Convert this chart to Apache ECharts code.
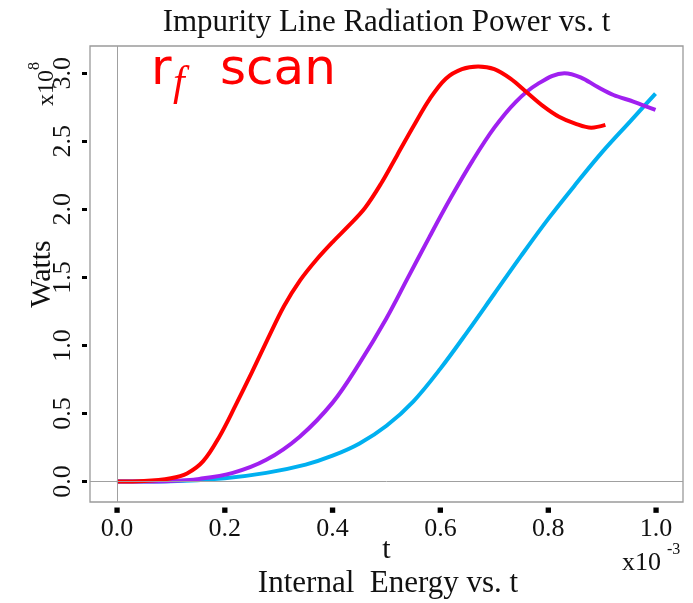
<!DOCTYPE html>
<html>
<head>
<meta charset="utf-8">
<script src="https://cdn.jsdelivr.net/npm/echarts@6/dist/echarts.min.js"></script>
<style>
html,body{margin:0;padding:0;background:#fff;}
#chart{width:693px;height:603px;}
</style>
</head>
<body>
<div id="chart"></div>
<script>
// t in units of 1e-3, power in units of 1e8 W
const redT =    [0, 0.05, 0.1, 0.13, 0.16, 0.19, 0.22, 0.25, 0.28, 0.31, 0.34, 0.37, 0.4, 0.43, 0.46, 0.49, 0.52, 0.55, 0.58, 0.61, 0.64, 0.67, 0.70, 0.73, 0.76, 0.79, 0.82, 0.85, 0.88, 0.906];
const redW =    [0, 0.004, 0.025, 0.06, 0.15, 0.33, 0.56, 0.80, 1.05, 1.29, 1.48, 1.63, 1.76, 1.88, 2.01, 2.19, 2.40, 2.61, 2.81, 2.96, 3.03, 3.05, 3.03, 2.96, 2.86, 2.76, 2.68, 2.63, 2.60, 2.62];
const purpleT = [0, 0.1, 0.153, 0.215, 0.277, 0.339, 0.4, 0.45, 0.5, 0.54, 0.58, 0.62, 0.66, 0.7, 0.74, 0.78, 0.83, 0.86, 0.891, 0.921, 0.959, 0.999];
const purpleW = [0, 0.005, 0.02, 0.064, 0.16, 0.33, 0.58, 0.87, 1.2, 1.5, 1.8, 2.09, 2.36, 2.6, 2.79, 2.92, 3.0, 2.97, 2.90, 2.84, 2.79, 2.73];
const cyanT =   [0, 0.1, 0.2, 0.277, 0.35, 0.4, 0.45, 0.5, 0.55, 0.6, 0.65, 0.7, 0.75, 0.8, 0.85, 0.9, 0.953, 0.999];
const cyanW =   [0, 0.003, 0.025, 0.064, 0.125, 0.19, 0.28, 0.41, 0.59, 0.83, 1.1, 1.38, 1.66, 1.93, 2.18, 2.42, 2.65, 2.85];
const xTicks = [0, 0.2, 0.4, 0.6, 0.8, 1.0];
const yTicks = [0, 0.5, 1.0, 1.5, 2.0, 2.5, 3.0];

const SERIF = '"Liberation Serif", "Times New Roman", serif';
const SANS = '"DejaVu Sans", sans-serif';
const zip = (a, b) => a.map((v, i) => [v, b[i]]);

const chart = echarts.init(document.getElementById('chart'), null, {renderer: 'canvas'});

function line(name, t, w, color) {
  return {
    name, type: 'line', data: zip(t, w), smooth: 0.35, showSymbol: false, symbol: 'none',
    lineStyle: {color, width: 4}, itemStyle: {color}, z: 3, animation: false
  };
}

chart.setOption({
  animation: false,
  backgroundColor: '#fff',
  grid: {left: 90, right: 10, top: 46, bottom: 101, show: true, borderColor: '#9a9a9a', borderWidth: 1.3, backgroundColor: 'transparent'},
  xAxis: {
    type: 'value', min: -0.05, max: 1.05,
    offset: 5,
    name: 't', nameLocation: 'middle', nameGap: 28, nameMoveOverlap: false,
    nameTextStyle: {fontFamily: SERIF, fontSize: 30, color: '#111'},
    axisLine: {show: false, onZero: false},
    axisTick: {show: false},
    axisLabel: {show: true, customValues: xTicks, margin: 0, color: '#111',
      formatter: v => '{t|\u25A0}\n{n|' + v.toFixed(1) + '}',
      rich: {
        t: {fontFamily: SANS, fontSize: 7, lineHeight: 6, color: '#000'},
        n: {fontFamily: SERIF, fontSize: 26, lineHeight: 33, color: '#111'}
      }},
    splitLine: {show: false}
  },
  yAxis: {
    type: 'value', min: -0.15, max: 3.2,
    offset: 3,
    name: 'Watts', nameLocation: 'middle', nameGap: 30, nameRotate: 90, nameMoveOverlap: false,
    nameTextStyle: {fontFamily: SERIF, fontSize: 30, color: '#111'},
    axisLine: {show: false, onZero: false},
    axisTick: {show: true, length: 5, customValues: yTicks, lineStyle: {color: '#000', width: 3}},
    axisLabel: {show: true, customValues: yTicks, rotate: 90, margin: 11, fontFamily: SERIF, fontSize: 26, color: '#111',
      formatter: v => v.toFixed(1)},
    splitLine: {show: false}
  },
  graphic: [
    {type: 'text', x: 386.5, y: 23, style: {text: 'Impurity Line Radiation Power vs. t', fontFamily: SERIF, fontSize: 31, fill: '#111', align: 'center', verticalAlign: 'middle'}},
    {type: 'text', x: 388, y: 584, style: {text: 'Internal  Energy vs. t', fontFamily: SERIF, fontSize: 31, fill: '#111', align: 'center', verticalAlign: 'middle'}},
    {type: 'text', x: 622, y: 563, style: {text: 'x10', fontFamily: SERIF, fontSize: 26, fill: '#111', align: 'left', verticalAlign: 'middle'}},
    {type: 'text', x: 667, y: 550, style: {text: '-3', fontFamily: SERIF, fontSize: 16, fill: '#111', align: 'left', verticalAlign: 'middle'}},
    {type: 'text', x: 47, y: 88, rotation: Math.PI / 2, style: {text: 'x10', fontFamily: SERIF, fontSize: 24, fill: '#111', align: 'center', verticalAlign: 'middle'}},
    {type: 'text', x: 35, y: 66, rotation: Math.PI / 2, style: {text: '8', fontFamily: SERIF, fontSize: 16, fill: '#111', align: 'center', verticalAlign: 'middle'}},
    {type: 'text', x: 151, y: 71, style: {text: 'r', fontFamily: SANS, fontSize: 50, fill: '#ff0000', align: 'left', verticalAlign: 'middle'}},
    {type: 'text', x: 173, y: 84, style: {text: 'f', fontFamily: SERIF, fontStyle: 'italic', fontSize: 42, fill: '#ff0000', align: 'left', verticalAlign: 'middle'}},
    {type: 'text', x: 220, y: 71, style: {text: 'scan', fontFamily: SANS, fontSize: 50, fill: '#ff0000', align: 'left', verticalAlign: 'middle'}}
  ],
  series: [
    {
      type: 'line', data: [], z: 1, silent: true, animation: false,
      markLine: {
        silent: true, symbol: ['none', 'none'], animation: false,
        label: {show: false},
        lineStyle: {color: '#a0a0a0', width: 1, type: 'solid'},
        data: [{xAxis: 0}, {yAxis: 0}]
      }
    },
    line('cyan', cyanT, cyanW, '#00b0f0'),
    line('purple', purpleT, purpleW, '#a020f0'),
    line('red', redT, redW, '#ff0000')
  ]
});
</script>
</body>
</html>
